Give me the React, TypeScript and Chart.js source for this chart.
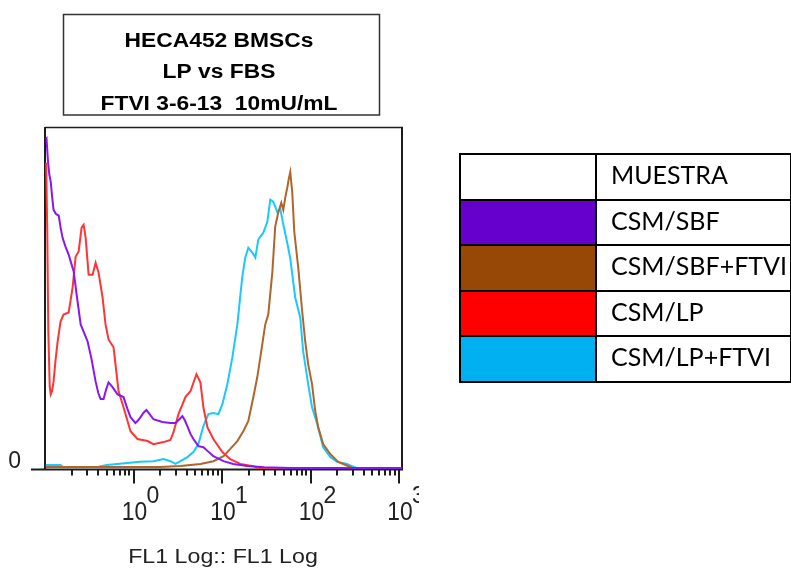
import React, { useEffect, useRef } from "react";
import { Chart, registerables } from "chart.js";

Chart.register(...registerables);

type Pt = [number, number];

// ---- text ----
const titleLines = ["HECA452 BMSCs", "LP vs FBS", "FTVI 3-6-13  10mU/mL"];
const xAxisTitle = "FL1 Log:: FL1 Log";
const yZeroLabel = "0";
const decadeValues = [1, 10, 100, 1000];
const decadeExponents = ["0", "1", "2", "3"];
const minorMultipliers = [2, 3, 4, 5, 6, 7, 8, 9];
const tickDecades = [0.1, 1, 10, 100, 1000];
const xMin = 0.1;
const xMax = 1080;
const yMin = 0;
const yMax = 100;

// ---- legend table ----
const legendLabels = ["MUESTRA", "CSM/SBF", "CSM/SBF+FTVI", "CSM/LP", "CSM/LP+FTVI"];
const legendSwatches = ["#FFFFFF", "#6600CC", "#974706", "#FF0000", "#00B0F0"];

// ---- series (FL1 value, relative count) ----
const csmSbf: Pt[] = [
  [0.102, 96.5], [0.104, 96.7], [0.108, 90.0], [0.112, 86.0], [0.116, 84.0], [0.121, 79.0],
  [0.125, 75.7], [0.133, 74.5], [0.143, 74.0], [0.150, 70.5], [0.158, 67.5], [0.170, 65.0],
  [0.185, 62.6], [0.198, 60.0], [0.211, 57.6], [0.230, 50.0], [0.253, 42.1], [0.278, 39.5],
  [0.303, 37.1], [0.335, 32.0], [0.373, 25.4], [0.400, 22.0], [0.425, 20.2], [0.459, 20.2],
  [0.490, 23.0], [0.522, 25.1], [0.580, 23.7], [0.660, 21.6], [0.771, 20.8], [0.850, 17.5],
  [0.925, 14.9], [1.05, 13.2], [1.13, 14.0], [1.20, 14.9], [1.30, 16.2], [1.40, 17.0],
  [1.52, 15.8], [1.68, 14.3], [2.12, 13.5], [2.61, 13.2], [2.98, 13.2], [3.30, 14.3],
  [3.57, 15.2], [3.80, 14.0], [4.06, 12.3], [4.40, 10.0], [4.75, 8.5], [5.41, 6.4],
  [6.16, 6.1], [7.00, 4.8], [7.98, 3.5], [10.4, 2.0], [13.4, 1.2], [19.3, 0.6], [30, 0.2],
  [60, 0], [1080, 0],
];

const csmSbfFtvi: Pt[] = [
  [0.102, 0.3], [2.0, 0.3], [3.39, 0.6], [5.70, 1.2], [7.98, 2.0], [10.4, 3.5], [12.4, 5.6],
  [14.9, 7.9], [17.4, 10.8], [19.8, 13.7], [22.6, 20.8], [25.0, 26.6], [27.1, 32.5],
  [30.8, 42.1], [33.3, 45.0], [37.0, 57.3], [39.9, 70.8], [43.2, 74.9], [46.7, 77.8],
  [49.2, 75.7], [52.0, 79.5], [54.6, 82.2], [57.0, 85.0], [59.0, 86.8], [62.1, 81.0],
  [65.5, 69.3], [72.6, 58.8], [80.5, 45.9], [87.1, 37.1], [94.1, 30.4], [104, 24.6],
  [113, 16.7], [122, 12.0], [139, 7.0], [167, 4.1], [205, 1.8], [266, 0.6], [295, 0],
  [1080, 0],
];

const csmLp: Pt[] = [
  [0.103, 89.5], [0.106, 70.0], [0.109, 40.0], [0.113, 24.0], [0.116, 21.6], [0.120, 22.5],
  [0.125, 25.4], [0.132, 32.0], [0.139, 37.1], [0.150, 43.0], [0.162, 45.0], [0.185, 45.6],
  [0.205, 52.9], [0.222, 62.0], [0.240, 63.5], [0.259, 70.5], [0.273, 71.3], [0.288, 67.5],
  [0.311, 56.7], [0.345, 56.7], [0.373, 60.2], [0.403, 57.3], [0.447, 50.0], [0.483, 42.1],
  [0.522, 37.7], [0.595, 35.4], [0.678, 22.5], [0.771, 17.8], [0.925, 10.8], [1.11, 8.5],
  [1.44, 7.9], [1.68, 7.0], [2.18, 7.6], [2.61, 8.2], [2.83, 10.5], [3.22, 15.8],
  [3.86, 20.8], [4.40, 22.5], [5.14, 27.5], [5.70, 25.1], [6.16, 17.8], [6.83, 12.0],
  [7.98, 8.5], [10.1, 4.7], [12.4, 2.6], [16.1, 1.2], [22.6, 0.5], [26, 0], [1080, 0],
];

const csmLpFtvi: Pt[] = [
  [0.102, 0.9], [0.150, 0.9], [0.160, 0.3], [0.390, 0.3], [0.500, 0.9], [0.856, 1.5],
  [1.20, 1.8], [1.68, 2.0], [2.18, 2.6], [2.61, 2.0], [2.98, 1.2], [3.39, 2.0], [4.06, 3.2],
  [4.75, 4.7], [5.41, 7.0], [6.16, 12.3], [7.01, 15.8], [7.98, 16.1], [9.10, 15.8],
  [10.1, 18.7], [11.5, 24.6], [13.1, 32.5], [14.9, 42.1], [16.9, 55.8], [18.3, 61.7],
  [19.8, 64.6], [22.0, 63.2], [23.8, 61.7], [25.7, 67.0], [29.3, 69.0], [32.5, 72.2],
  [35.1, 78.7], [37.9, 78.1], [42.1, 75.1], [45.5, 76.0], [49.2, 71.5], [54.6, 66.0],
  [59.0, 61.5], [67.1, 50.0], [76.4, 44.2], [82.6, 34.2], [94.1, 24.6], [104, 17.8],
  [119, 12.9], [139, 6.1], [167, 3.2], [200, 1.8], [259, 1.2], [295, 0.5], [330, 0],
  [1080, 0],
];

const seriesColors = {
  csmSbf: "#8A16F5",
  csmSbfFtvi: "#B0652A",
  csmLp: "#FF3535",
  csmLpFtvi: "#19C8FF",
};

const SANS = "'Liberation Sans', Arial, sans-serif";

const toXY = (pts: Pt[]) => pts.map(([x, y]) => ({ x, y }));

const framePlugin = {
  id: "flowFrame",
  beforeDatasetsDraw(chart: any) {
    const { ctx, chartArea: a } = chart;
    const xs = chart.scales.x;
    ctx.save();
    ctx.strokeStyle = "#1c1c1c";
    // left border
    ctx.lineWidth = 2;
    ctx.beginPath();
    ctx.moveTo(a.left, a.bottom + 2);
    ctx.lineTo(a.left, a.top);
    ctx.stroke();
    // top border
    ctx.lineWidth = 1.5;
    ctx.beginPath();
    ctx.moveTo(a.left, a.top + 0.5);
    ctx.lineTo(a.right + 1, a.top + 0.5);
    ctx.stroke();
    // right border
    ctx.lineWidth = 2;
    ctx.beginPath();
    ctx.moveTo(a.right, a.top);
    ctx.lineTo(a.right, a.bottom + 2);
    ctx.stroke();
    // axis line
    const axisY = a.bottom + 1.5;
    ctx.beginPath();
    ctx.moveTo(a.left - 14, axisY);
    ctx.lineTo(a.right + 1, axisY);
    ctx.stroke();
    // ticks
    ctx.lineWidth = 2;
    tickDecades.forEach((d) => {
      [1, ...minorMultipliers].forEach((m) => {
        const v = d * m;
        if (v <= xMin * 1.01 || v > xMax) return;
        const px = Math.round(xs.getPixelForValue(v));
        const len = m === 1 ? 14 : 6;
        ctx.beginPath();
        ctx.moveTo(px, axisY);
        ctx.lineTo(px, axisY + len);
        ctx.stroke();
      });
    });
    ctx.restore();
  },
  afterDraw(chart: any) {
    const { ctx } = chart;
    const xs = chart.scales.x;
    ctx.save();
    // title box
    ctx.strokeStyle = "#333333";
    ctx.lineWidth = 1.5;
    ctx.strokeRect(63.5, 14.5, 316, 100.5);
    ctx.fillStyle = "#000000";
    ctx.font = `bold 20px ${SANS}`;
    ctx.textAlign = "center";
    ctx.textBaseline = "alphabetic";
    const baselines = [46.5, 78, 109.5];
    titleLines.forEach((t, i) => {
      ctx.save();
      ctx.translate(219, baselines[i]);
      ctx.scale(1.14, 1);
      ctx.fillText(t, 0, 0);
      ctx.restore();
    });

    // y zero label
    ctx.fillStyle = "#222222";
    ctx.font = `23px ${SANS}`;
    ctx.textAlign = "right";
    ctx.fillText(yZeroLabel, 21, 468);

    // x axis title
    ctx.save();
    ctx.translate(223, 562.5);
    ctx.scale(1.16, 1);
    ctx.font = `20px ${SANS}`;
    ctx.textAlign = "center";
    ctx.fillText(xAxisTitle, 0, 0);
    ctx.restore();

    // decade labels 10^n
    ctx.beginPath();
    ctx.rect(0, 0, 419, 568);
    ctx.clip();
    decadeValues.forEach((v, i) => {
      const px = xs.getPixelForValue(v);
      ctx.save();
      ctx.translate(px + 1, 520);
      ctx.scale(0.95, 1.05);
      ctx.font = `24px ${SANS}`;
      ctx.textAlign = "center";
      ctx.fillText("10", 0, 0);
      ctx.restore();
      ctx.font = `23px ${SANS}`;
      ctx.textAlign = "left";
      ctx.fillText(decadeExponents[i], px + 13, 503);
    });
    ctx.restore();
  },
};

export default function App() {
  const canvasRef = useRef<HTMLCanvasElement | null>(null);

  useEffect(() => {
    const canvas = canvasRef.current;
    if (!canvas) return;
    const common = { pointRadius: 0, borderWidth: 2, fill: false, tension: 0, clip: 4 } as any;
    const chart = new Chart(canvas, {
      type: "line",
      data: {
        datasets: [
          { label: "CSM/SBF", data: toXY(csmSbf), borderColor: seriesColors.csmSbf, ...common },
          { label: "CSM/LP", data: toXY(csmLp), borderColor: seriesColors.csmLp, ...common },
          { label: "CSM/SBF+FTVI", data: toXY(csmSbfFtvi), borderColor: seriesColors.csmSbfFtvi, ...common },
          { label: "CSM/LP+FTVI", data: toXY(csmLpFtvi), borderColor: seriesColors.csmLpFtvi, ...common },
        ],
      },
      options: {
        animation: false,
        responsive: false,
        devicePixelRatio: 1,
        events: [],
        layout: { padding: { left: 45, top: 127, right: 389, bottom: 100 } },
        scales: {
          x: { type: "logarithmic", min: xMin, max: xMax, display: false },
          y: { type: "linear", min: yMin, max: yMax, display: false },
        },
        plugins: {
          legend: { display: false },
          tooltip: { enabled: false },
          title: { display: false },
        },
      } as any,
      plugins: [framePlugin],
    });
    return () => chart.destroy();
  }, []);

  const cellBorder = "2px solid #000";
  return (
    <div style={{ position: "fixed", left: 0, top: 0, width: 791, height: 568, background: "#fff", overflow: "hidden" }}>
      <canvas ref={canvasRef} width={791} height={568} style={{ position: "absolute", left: 0, top: 0, display: "block" }} />
      <table
        style={{
          position: "absolute",
          left: 459,
          top: 153,
          borderCollapse: "collapse",
          tableLayout: "fixed",
          width: 331,
          fontFamily: "Lato, 'Open Sans', sans-serif",
          fontSize: 25,
          color: "#000",
        }}
      >
        <colgroup>
          <col style={{ width: 136 }} />
          <col style={{ width: 195 }} />
        </colgroup>
        <tbody>
          {legendLabels.map((label, i) => (
            <tr key={label} style={{ height: 45.5 }}>
              <td style={{ border: cellBorder, background: legendSwatches[i], padding: 0 }} />
              <td style={{ border: cellBorder, padding: "0 0 5px 14px", whiteSpace: "nowrap", overflow: "hidden", verticalAlign: "middle" }}>{label}</td>
            </tr>
          ))}
        </tbody>
      </table>
    </div>
  );
}
